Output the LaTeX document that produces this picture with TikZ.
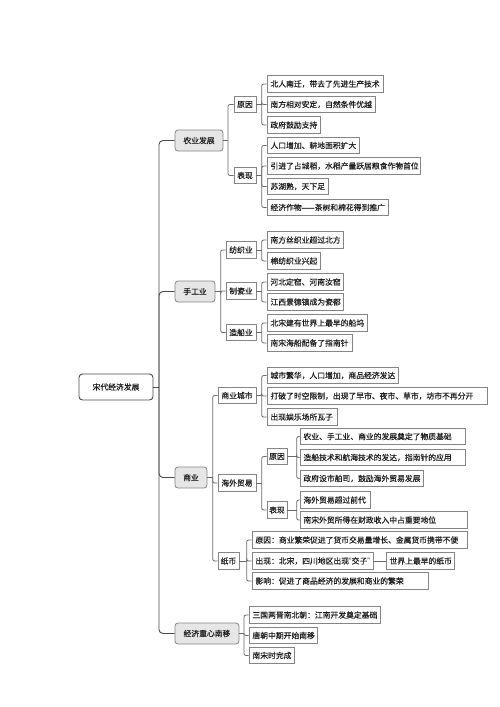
\documentclass[tikz,border=0pt]{standalone}
\usepackage{fontspec}
\setmainfont{Noto Sans CJK SC}[FakeBold=0.35]
\newfontfamily\latq{Liberation Sans}
\definecolor{boxgray}{HTML}{858585}
\definecolor{linegray}{HTML}{6A6A6A}
\definecolor{catfill}{HTML}{E6E6E6}
\definecolor{txt}{HTML}{1E1E1E}
\definecolor{rootborder}{HTML}{4A4A4A}
\tikzset{
  leaf/.style={draw=boxgray, line width=0.8pt, fill=white, minimum height=16.5pt,
    inner xsep=0pt, inner ysep=1pt, text=txt, font=\fontsize{7.8}{9}\selectfont},
  subbox/.style={leaf},
  cat/.style={leaf, fill=catfill, rounded corners=3pt, minimum height=21pt},
  rootbox/.style={leaf, draw=rootborder, line width=0.9pt, rounded corners=3.5pt, minimum height=26pt},
  conn/.style={draw=linegray, line width=0.8pt, rounded corners=2pt},
  trunk/.style={draw=rootborder, line width=0.9pt, rounded corners=4pt}
}
% centred box: #1 style, #2 name, #3 x1, #4 x2, #5 yc, #6 text
\newcommand\bx[6]{\node[#1, minimum width={(#4-#3)*1pt}] (#2) at ({(#3+#4)/2},-#5) {#6};}
% left-aligned leaf: #1 name, #2 x1, #3 x2, #4 yc, #5 text
\newcommand\lf[5]{%
  \pgfmathsetlengthmacro\lfw{(#3-#2)*1pt-7pt}%
  \node[leaf, minimum width={(#3-#2)*1pt}] (#1) at ({(#2+#3)/2},-#4) {\makebox[\lfw][l]{#5}};}
% #1 parent, #2 bracket x, #3 children
\newcommand\brk[3]{%
  \coordinate (bxtmp#1) at (#2,0);
  \draw[conn] (#1.east) -- (#1.east -| bxtmp#1);
  \foreach \c in {#3} {\draw[conn] (#1.east -| bxtmp#1) |- (\c.west);}
}
\begin{document}
\begin{tikzpicture}[x=1pt,y=1pt]
\useasboundingbox (0,0) rectangle (500,-707);
% root
\bx{rootbox}{root}{79}{153}{387}{宋代经济发展}
% categories
\bx{cat}{agr}{175}{223}{140.5}{农业发展}
\bx{cat}{hand}{175}{215}{291.5}{手工业}
\bx{cat}{com}{175}{207}{477.5}{商业}
\bx{cat}{shift}{175}{239}{633.5}{经济重心南移}
% agriculture
\bx{subbox}{ayy}{234}{256}{104.5}{原因}
\bx{subbox}{abx}{234}{256}{175.5}{表现}
\lf{a1}{267}{383}{84}{北人南迁，带去了先进生产技术}
\lf{a2}{267}{375}{104.5}{南方相对安定，自然条件优越}
\lf{a3}{267}{320}{125}{政府鼓励支持}
\lf{a4}{267}{359}{145.5}{人口增加、耕地面积扩大}
\lf{a5}{267}{420}{166}{引进了占城稻，水稻产量跃居粮食作物首位}
\lf{a6}{267}{328}{186.5}{苏湖熟，天下足}
\lf{a7}{267}{388}{207.5}{经济作物——茶树和棉花得到推广}
% handicraft
\bx{subbox}{hfz}{226}{256}{250}{纺织业}
\bx{subbox}{hzc}{226}{256}{291}{制瓷业}
\bx{subbox}{hzb}{226}{256}{332.5}{造船业}
\lf{h1}{267}{343}{240}{南方丝织业超过北方}
\lf{h2}{267}{320}{261}{棉纺织业兴起}
\lf{h3}{267}{343}{282}{河北定窑、河南汝窑}
\lf{h4}{267}{343}{302}{江西景德镇成为瓷都}
\lf{h5}{267}{367}{323}{北宋建有世界上最早的船坞}
\lf{h6}{267}{352}{343}{南宋海船配备了指南针}
% commerce
\bx{subbox}{ccs}{218}{256}{395.5}{商业城市}
\bx{subbox}{chw}{218}{256}{483}{海外贸易}
\bx{subbox}{czb}{218}{239}{561}{纸币}
\lf{c1}{267}{398}{375.5}{城市繁华，人口增加，商品经济发达}
\lf{c2}{267}{487}{396}{打破了时空限制，出现了早市、夜市、草市，坊市不再分开}
\lf{c3}{267}{337}{417}{出现娱乐场所瓦子}
\bx{subbox}{cyy}{267}{287}{456.5}{原因}
\bx{subbox}{cbx}{267}{287}{510}{表现}
\lf{c4}{300}{465}{436.5}{农业、手工业、商业的发展奠定了物质基础}
\lf{c5}{300}{465}{457.5}{造船技术和航海技术的发达，指南针的应用}
\lf{c6}{300}{423}{478.5}{政府设市舶司，鼓励海外贸易发展}
\lf{c7}{300}{370}{500}{海外贸易超过前代}
\lf{c8}{300}{467}{520}{南宋外贸所得在财政收入中占重要地位}
\lf{z1}{252}{467}{540}{原因：商业繁荣促进了货币交易量增长、金属货币携带不便}
\lf{z2}{252}{373}{561}{出现：北宋，四川地区出现{\latq “}交子{\latq ”}}
\lf{z3}{252}{428}{581}{影响：促进了商品经济的发展和商业的繁荣}
\lf{z4}{386}{454}{561}{世界上最早的纸币}
% economic center shift
\lf{s1}{249}{380}{615}{三国两晋南北朝：江南开发奠定基础}
\lf{s2}{249}{317}{635.5}{唐朝中期开始南移}
\lf{s3}{249}{294}{655.5}{南宋时完成}
% trunk
\coordinate (tr) at (159,0);
\draw[trunk] (root.east) -- (root.east -| tr);
\foreach \c in {agr,hand,com,shift} {\draw[trunk] (root.east -| tr) |- (\c.west);}
% brackets
\brk{agr}{228}{ayy,abx}
\brk{ayy}{261.7}{a1,a2,a3}
\brk{abx}{261.7}{a4,a5,a6,a7}
\brk{hand}{220.7}{hfz,hzc,hzb}
\brk{hfz}{261.7}{h1,h2}
\brk{hzc}{261.7}{h3,h4}
\brk{hzb}{261.7}{h5,h6}
\brk{com}{212.7}{ccs,chw,czb}
\brk{ccs}{261.7}{c1,c2,c3}
\brk{chw}{261.7}{cyy,cbx}
\brk{cyy}{296.7}{c4,c5,c6}
\brk{cbx}{296.7}{c7,c8}
\brk{czb}{246.7}{z1,z2,z3}
\brk{shift}{244}{s1,s2,s3}
\draw[conn] (z2.east) -- (z4.west);
\end{tikzpicture}
\end{document}
